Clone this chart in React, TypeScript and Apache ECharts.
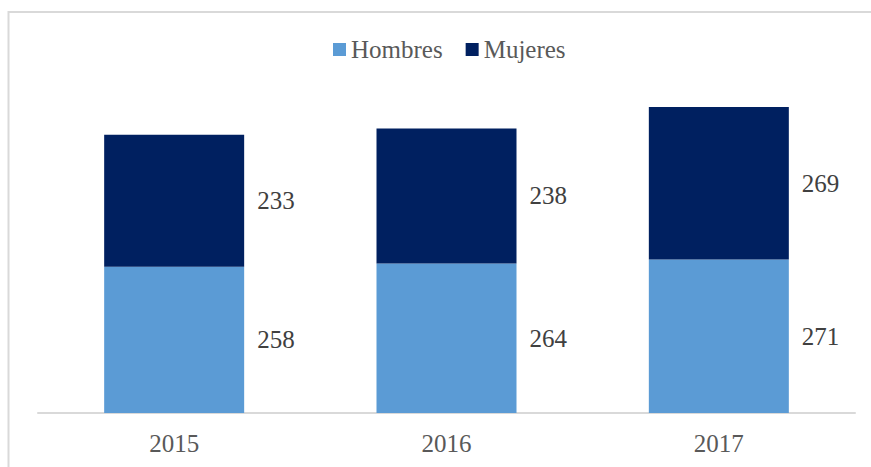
import React, { useEffect, useRef } from "react";
import * as echarts from "echarts";

const categories = ["2015", "2016", "2017"];
const hombres = [258, 264, 271];
const mujeres = [233, 238, 269];
const seriesNames = ["Hombres", "Mujeres"];

const FONT = "'Liberation Serif', 'Times New Roman', serif";

export default function App() {
  const ref = useRef<HTMLDivElement>(null);
  useEffect(() => {
    if (!ref.current) return;
    const chart = echarts.init(ref.current, null, { renderer: "svg" });
    const label = {
      show: true,
      position: "right",
      distance: 13,
      color: "#404040",
      fontFamily: FONT,
      fontSize: 25,
    };
    chart.setOption({
      animation: false,
      textStyle: { fontFamily: FONT },
      graphic: [
        {
          type: "rect",
          shape: { x: 8.5, y: 12, width: 900, height: 500 },
          style: { fill: "none", stroke: "#d9d9d9", lineWidth: 2 },
          silent: true,
        },
      ],
      legend: {
        data: seriesNames,
        left: 333,
        top: 37,
        padding: 0,
        itemWidth: 13,
        itemHeight: 13,
        itemGap: 23,
        icon: "rect",
        textStyle: { color: "#595959", fontFamily: FONT, fontSize: 25, lineHeight: 25 },
      },
      grid: { left: 38, right: 16, top: 73, bottom: 54, containLabel: false },
      xAxis: {
        type: "category",
        data: categories,
        axisLine: { show: true, lineStyle: { color: "#d9d9d9", width: 2 } },
        axisTick: { show: false },
        axisLabel: { color: "#595959", fontFamily: FONT, fontSize: 25, margin: 18 },
      },
      yAxis: {
        type: "value",
        min: 0,
        max: 600,
        show: false,
        splitLine: { show: false },
      },
      series: [
        {
          name: seriesNames[0],
          type: "bar",
          stack: "total",
          barWidth: 140,
          data: hombres,
          itemStyle: { color: "#5b9bd5" },
          label,
        },
        {
          name: seriesNames[1],
          type: "bar",
          stack: "total",
          barWidth: 140,
          data: mujeres,
          itemStyle: { color: "#002060" },
          label,
        },
      ],
    });
    return () => chart.dispose();
  }, []);
  return (
    <div
      ref={ref}
      style={{ position: "fixed", left: 0, top: 0, width: 871, height: 467, background: "#fff" }}
    />
  );
}
